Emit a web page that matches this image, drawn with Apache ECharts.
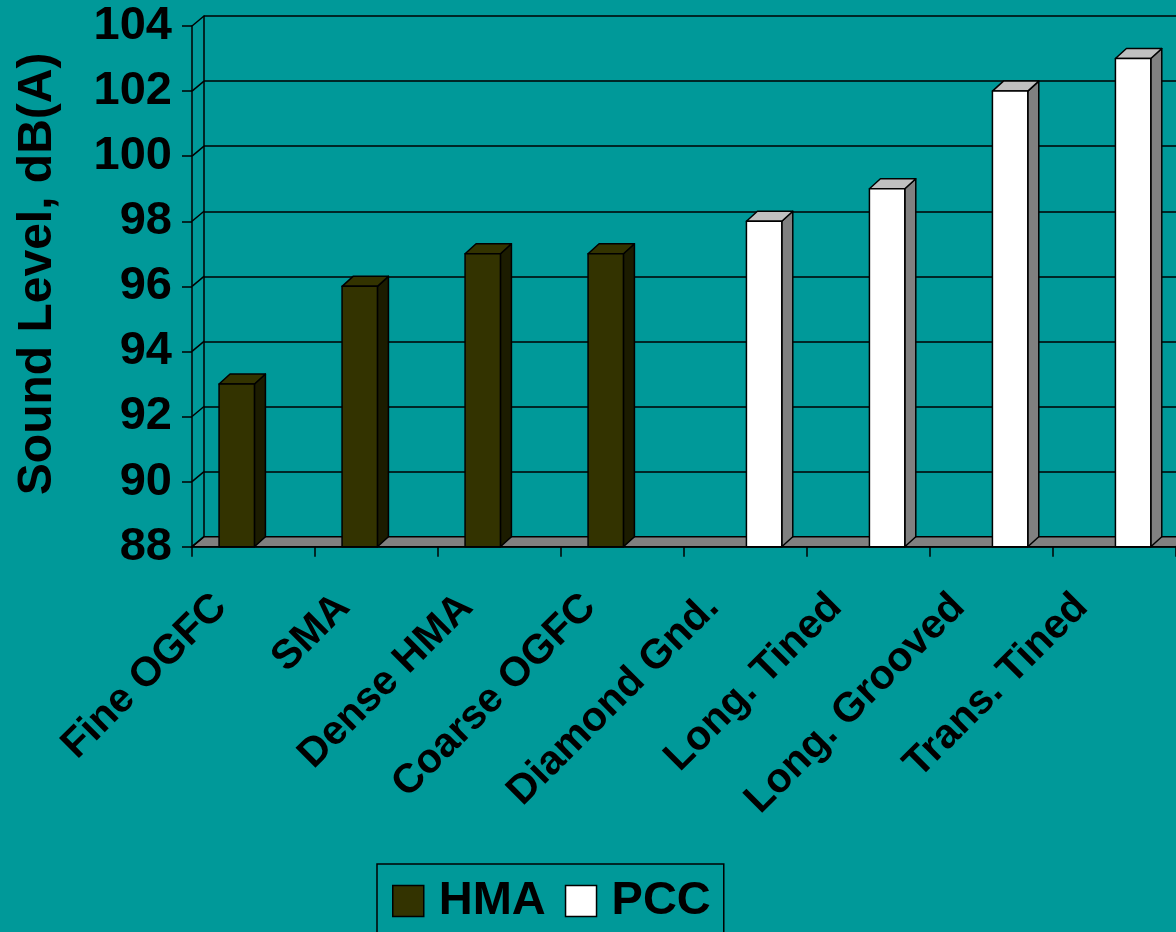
<!DOCTYPE html>
<html>
<head>
<meta charset="utf-8">
<script src="https://cdn.jsdelivr.net/npm/echarts@6/dist/echarts.min.js"></script>
<style>
  html, body { margin: 0; padding: 0; background: #009999; }
  #chart { width: 1176px; height: 932px; }
</style>
</head>
<body>
<div id="chart"></div>
<script>
// Pavement surface types and measured sound levels, dB(A)
const categories = ['Fine OGFC', 'SMA', 'Dense HMA', 'Coarse OGFC', 'Diamond Gnd.', 'Long. Tined', 'Long. Grooved', 'Trans. Tined'];
const hmaValues = [93, 96, 97, 97, null, null, null, null];
const pccValues = [null, null, null, null, 98, 99, 102, 103];
const yTicks = [88, 90, 92, 94, 96, 98, 100, 102, 104];

const Y_MIN = 88, Y_MAX = 104, Y_STEP = 2;
const FONT = 'Arial, "Liberation Sans", Helvetica, sans-serif';
const WALL_DX = 12, WALL_DY = 10;   // depth of the back wall / floor
const BAR_DX = 11, BAR_DY = 10;     // depth of each column
const LABEL_SHIFT = 33;             // category labels sit left of the front ticks
const INK = '#000';

const chart = echarts.init(document.getElementById('chart'));

function toPairs(values) {
  const out = [];
  values.forEach((v, i) => { if (v != null) out.push([i, v]); });
  return out;
}

// 3D column: front face, lit top and shaded right side
function columnRenderer(slot, colors) {
  return function (params, api) {
    const cat = api.value(0), val = api.value(1);
    const topPt = api.coord([cat, val]);
    const basePt = api.coord([cat, Y_MIN]);
    const band = api.size([1, 0])[0];
    const w = band * 0.2875;
    const x0 = topPt[0] - band / 2 + band * 0.22 + slot * w;
    const x1 = x0 + w, yT = topPt[1], yB = basePt[1];
    const st = { stroke: INK, lineWidth: 1.5, lineJoin: 'round' };
    return {
      type: 'group',
      children: [
        { type: 'polygon', shape: { points: [[x1, yT], [x1 + BAR_DX, yT - BAR_DY], [x1 + BAR_DX, yB - BAR_DY], [x1, yB]] },
          style: Object.assign({ fill: colors.side }, st) },
        { type: 'polygon', shape: { points: [[x0, yT], [x0 + BAR_DX, yT - BAR_DY], [x1 + BAR_DX, yT - BAR_DY], [x1, yT]] },
          style: Object.assign({ fill: colors.top }, st) },
        { type: 'rect', shape: { x: x0, y: yT, width: w, height: yB - yT },
          style: Object.assign({ fill: colors.face }, st) }
      ]
    };
  };
}

// floor slab plus the short depth lines joining front ticks to the back wall
function floorRenderer(params, api) {
  const cs = params.coordSys;
  const xl = cs.x, xr = cs.x + cs.width, yb = cs.y + cs.height;
  const children = [{
    type: 'polygon',
    shape: { points: [[xl, yb], [xr, yb], [xr + WALL_DX, yb - WALL_DY], [xl + WALL_DX, yb - WALL_DY]] },
    style: { fill: '#808080', stroke: INK, lineWidth: 1.5 }
  }];
  yTicks.forEach(t => {
    const y = api.coord([0, t])[1];
    children.push({
      type: 'line',
      shape: { x1: xl, y1: y, x2: xl + WALL_DX, y2: y - WALL_DY },
      style: { stroke: INK, lineWidth: 1.5 }
    });
  });
  return { type: 'group', children };
}

const GRID_BOTTOM = 385.3;

const option = {
  backgroundColor: '#009999',
  animation: false,
  grid: [
    // front plane: axes, ticks, columns
    { left: 192, right: 0, top: 26, bottom: GRID_BOTTOM, outerBoundsMode: 'none', containLabel: false },
    // back wall: gridlines
    { left: 192 + WALL_DX, right: -WALL_DX, top: 26 - WALL_DY, bottom: GRID_BOTTOM + WALL_DY, outerBoundsMode: 'none', containLabel: false },
    // category label band
    { left: 192 - LABEL_SHIFT, right: LABEL_SHIFT, top: 26, bottom: GRID_BOTTOM, outerBoundsMode: 'none', containLabel: false }
  ],
  legend: {
    data: [
      { name: 'HMA', itemStyle: { color: '#333300', borderColor: INK, borderWidth: 1.5 } },
      { name: 'PCC', itemStyle: { color: '#ffffff', borderColor: INK, borderWidth: 1.5 } }
    ],
    icon: 'rect',
    orient: 'horizontal',
    left: 377,
    top: 864,
    padding: [13.5, 13, 13.5, 15],
    itemGap: 19,
    itemWidth: 31,
    itemHeight: 31,
    borderColor: INK,
    borderWidth: 1.5,
    textStyle: { color: INK, fontFamily: FONT, fontWeight: 'bold', fontSize: 47, padding: [0, 0, 0, 10] }
  },
  xAxis: [
    {
      type: 'category',
      gridIndex: 0,
      data: categories,
      boundaryGap: true,
      axisLine: { show: true, lineStyle: { color: INK, width: 1.5 } },
      axisTick: { show: true, length: 10, interval: 0, lineStyle: { color: INK, width: 1.5 } },
      axisLabel: { show: false },
      splitLine: { show: false }
    },
    { type: 'category', gridIndex: 1, data: categories, show: false },
    {
      type: 'category',
      gridIndex: 2,
      data: categories,
      boundaryGap: true,
      axisLine: { show: false },
      axisTick: { show: false },
      axisLabel: {
        interval: 0,
        rotate: 45,
        margin: 54,
        color: INK,
        fontFamily: FONT,
        fontWeight: 'bold',
        fontSize: 41
      },
      splitLine: { show: false }
    }
  ],
  yAxis: [
    {
      type: 'value',
      gridIndex: 0,
      min: Y_MIN, max: Y_MAX, interval: Y_STEP,
      name: 'Sound Level, dB(A)',
      nameLocation: 'middle',
      nameRotate: 90,
      nameGap: 130,
      nameTextStyle: { color: INK, fontFamily: FONT, fontWeight: 'bold', fontSize: 48, padding: [0, 0, 0, 25] },
      axisLine: { show: true, lineStyle: { color: INK, width: 1.5 } },
      axisTick: { show: true, length: 10, lineStyle: { color: INK, width: 1.5 } },
      axisLabel: { color: INK, fontFamily: FONT, fontWeight: 'bold', fontSize: 47, margin: 20 },
      splitLine: { show: false }
    },
    {
      type: 'value',
      gridIndex: 1,
      min: Y_MIN, max: Y_MAX, interval: Y_STEP,
      axisLine: { show: true, lineStyle: { color: INK, width: 1.5 } },
      axisTick: { show: false },
      axisLabel: { show: false },
      splitLine: { show: true, lineStyle: { color: INK, width: 1.5 } }
    },
    { type: 'value', gridIndex: 2, min: Y_MIN, max: Y_MAX, interval: Y_STEP, show: false, splitLine: { show: false } }
  ],
  series: [
    {
      name: 'floor',
      type: 'custom',
      xAxisIndex: 0, yAxisIndex: 0,
      data: [[0, Y_MIN]],
      renderItem: floorRenderer,
      silent: true,
      z: 1
    },
    {
      name: 'HMA',
      type: 'custom',
      xAxisIndex: 0, yAxisIndex: 0,
      data: toPairs(hmaValues),
      encode: { x: 0, y: 1 },
      itemStyle: { color: '#333300', borderColor: INK },
      renderItem: columnRenderer(0, { face: '#333300', top: '#333300', side: '#1c1c00' }),
      z: 3
    },
    {
      name: 'PCC',
      type: 'custom',
      xAxisIndex: 0, yAxisIndex: 0,
      data: toPairs(pccValues),
      encode: { x: 0, y: 1 },
      itemStyle: { color: '#ffffff', borderColor: INK },
      renderItem: columnRenderer(1, { face: '#ffffff', top: '#c0c0c0', side: '#808080' }),
      z: 3
    }
  ]
};

chart.setOption(option);
</script>
</body>
</html>
